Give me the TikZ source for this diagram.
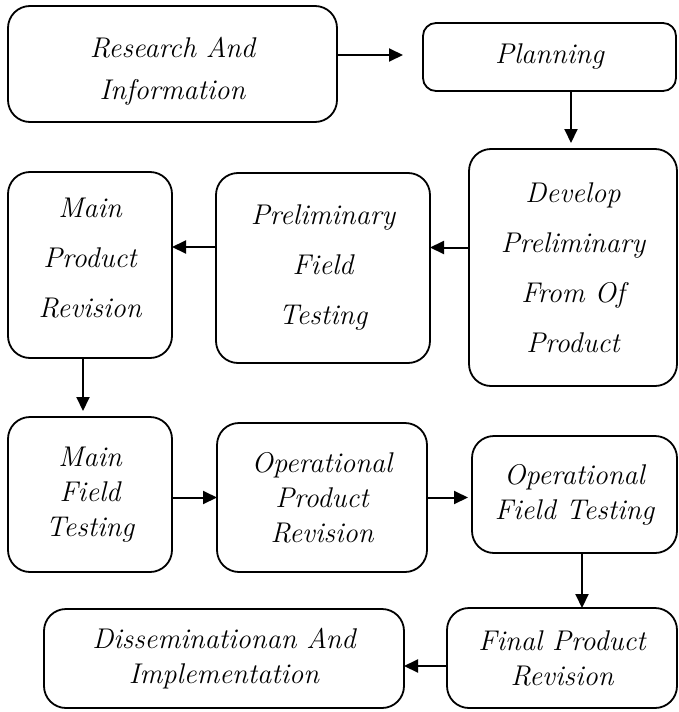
\documentclass[tikz,border=0pt]{standalone}
\usepackage{tikz}
\usetikzlibrary{arrows.meta, calc}

\tikzset{
  stage/.style={draw=black, line width=1.8pt, rounded corners=22pt, align=center,
    inner sep=0pt, outer sep=0pt, font=\itshape\fontsize{28.5}{35}\selectfont},
  airy/.style={font=\itshape\fontsize{28.5}{50}\selectfont},
  flow/.style={line width=2pt, -{Triangle[length=14pt,width=13pt]}},
}

\begin{document}
\begin{tikzpicture}[x=1pt, y=-1pt]

	\useasboundingbox (0,0) rectangle (678,712);

	% top row
	\node[stage, font=\itshape\fontsize{28.5}{42}\selectfont, text height=76pt, minimum width=329pt, minimum height=116pt] (research) at (172.5,64) {Research And\\Information};
	\node[stage, rounded corners=13pt, minimum width=253pt, minimum height=68pt] (planning) at (549.5,57) {Planning};

	% second row
	\node[stage, airy, minimum width=208pt, minimum height=237pt] (develop) at (573,267.5) {Develop\\Preliminary\\From Of\\Product};
	\node[stage, airy, minimum width=214pt, minimum height=190pt] (prelimtest) at (323,268) {Preliminary\\Field\\Testing};
	\node[stage, airy, text depth=15pt, minimum width=164pt, minimum height=186pt] (mainrev) at (90,265) {Main\\Product\\Revision};

	% third row
	\node[stage, minimum width=164pt, minimum height=155pt] (maintest) at (90,494.5) {Main\\Field\\Testing};
	\node[stage, minimum width=210pt, minimum height=149pt] (oprev) at (322,497.5) {Operational\\Product\\Revision};
	\node[stage, minimum width=205pt, minimum height=117pt] (optest) at (574.5,494.5) {Operational\\Field Testing};

	% bottom row
	\node[stage, minimum width=230pt, minimum height=100pt] (finalrev) at (562,658) {Final Product\\Revision};
	\node[stage, minimum width=360pt, minimum height=99pt] (dissem) at (224,658.5) {Disseminationan And\\Implementation};


	\draw[flow, shorten >=20pt] ([yshift=9pt]research.east) coordinate (a) -- (a -| planning.west);
	\draw[flow, shorten >=6pt] ([xshift=21.5pt]planning.south) coordinate (b) -- (b |- develop.north);
	\draw[flow] ([yshift=20pt]develop.west) coordinate (c) -- (c -| prelimtest.east);
	\draw[flow] ([yshift=21pt]prelimtest.west) coordinate (d) -- (d -| mainrev.east);
	\draw[flow, shorten >=6pt] ([xshift=-7pt]mainrev.south) coordinate (e) -- (e |- maintest.north);
	\draw[flow] (maintest.east |- oprev.west) -- (oprev.west);
	\draw[flow, shorten >=4pt] (oprev.east) -- (oprev.east -| optest.west);
	\draw[flow] ([xshift=7.5pt]optest.south) coordinate (f) -- (f |- finalrev.north);
	\draw[flow] ([yshift=-8pt]finalrev.west) coordinate (g) -- (g -| dissem.east);

\end{tikzpicture}
\end{document}
